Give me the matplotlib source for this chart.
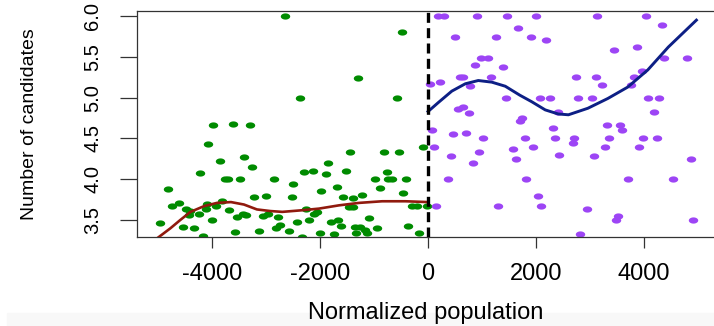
import numpy as np
import matplotlib
matplotlib.use("Agg")
import matplotlib.pyplot as plt
from matplotlib.path import Path
from matplotlib.patches import Rectangle

plt.rcParams["font.family"] = ["Liberation Sans", "DejaVu Sans"]
plt.rcParams["axes.unicode_minus"] = False

# --- data --------------------------------------------------------
# municipalities below the threshold (green)
left_x = [-2650, -3980, -3620, -3290, -4070, -3850, -3410, -3260, -4220, -3770,
          -3710, -3490, -2850, -4820, -3230, -3010, -4750, -4620, -4490, -4400,
          -4090, -4120, -3930, -3810, -3690, -4250, -4430, -3540, -3430, -3380,
          -3060, -2970, -2770, -4960, -4530, -4330, -4000, -4170, -3570, -3140,
          -2810, -2740, -2570, -2420, -2525, -2494, -2296, -2130, -2370, -2330,
          -2265, -2204, -2111, -2061, -2000, -1982, -1895, -1846, -1796, -1735,
          -1691, -1667, -1611, -1574, -1524, -1450, -1457, -1395, -1383, -1333,
          -1259, -1228, -1296, -1173, -1124, -1093, -976, -939, -895, -809,
          -759, -735, -673, -580, -531, -487, -457, -413, -365, -302,
          -209, -172, -98, -24, -1346]
left_y = [6.00, 4.66, 4.68, 4.66, 4.43, 4.22, 4.27, 4.15, 4.08, 4.00,
          4.00, 4.00, 4.00, 3.88, 3.78, 3.80, 3.67, 3.71, 3.64, 3.61,
          3.70, 3.64, 3.67, 3.73, 3.62, 3.57, 3.56, 3.54, 3.57, 3.56,
          3.55, 3.58, 3.54, 3.46, 3.42, 3.40, 3.50, 3.31, 3.35, 3.37,
          3.40, 3.44, 3.37, 3.47, 3.78, 3.94, 4.09, 4.10, 5.00, 3.29,
          3.64, 3.50, 3.57, 3.60, 3.34, 3.86, 4.07, 4.20, 3.47, 3.33,
          3.91, 3.50, 3.43, 3.78, 4.10, 4.33, 3.66, 3.66, 3.77, 3.34,
          3.42, 3.81, 5.24, 3.38, 3.34, 3.53, 4.00, 3.40, 3.89, 4.33,
          4.09, 4.00, 4.00, 5.00, 4.33, 5.80, 3.83, 4.00, 3.43, 3.67,
          3.67, 3.34, 4.40, 3.67, 3.42]

# municipalities above the threshold (purple)
right_x = [180, 302, 913, 1469, 2006, 1673, 500, 1259, 1914, 2191,
           976, 1117, 870, 1383, 37, 228, 593, 654, 1161, 784,
           1438, 2080, 2265, 562, 654, 765, 1735, 1704, 2402, 68,
           469, 704, 1025, 1790, 2309, 2352, 111, 426, 950, 827,
           1580, 1636, 1951, 2426, 377, 1815, 2037, 148, 1303, 2099,
           3135, 4043, 4328, 3439, 3871, 4376, 4797, 3963, 2747, 3117,
           3222, 3815, 3754, 2778, 3037, 4074, 4272, 4186, 3321, 3550,
           3587, 2704, 2685, 3358, 3988, 4241, 3284, 3908, 3074, 4865,
           3698, 4537, 2945, 3513, 3476, 4908, 2821]
right_y = [6.00, 6.00, 6.00, 6.00, 6.00, 5.85, 5.74, 5.74, 5.74, 5.71,
           5.49, 5.49, 5.40, 5.38, 5.17, 5.19, 5.25, 5.25, 5.25, 5.14,
           4.99, 4.99, 4.99, 4.86, 4.88, 4.81, 4.75, 4.71, 4.83, 4.60,
           4.55, 4.57, 4.50, 4.50, 4.63, 4.50, 4.40, 4.29, 4.33, 4.20,
           4.37, 4.25, 4.40, 4.30, 4.00, 4.00, 3.80, 3.67, 3.67, 3.67,
           6.00, 6.00, 5.89, 5.59, 5.62, 5.49, 5.49, 5.33, 5.25, 5.25,
           5.16, 5.25, 5.16, 4.99, 4.99, 4.99, 4.99, 4.83, 4.66, 4.66,
           4.60, 4.50, 4.44, 4.50, 4.50, 4.50, 4.40, 4.40, 4.29, 4.25,
           4.00, 4.00, 3.63, 3.55, 3.50, 3.50, 3.33]

# smoothed fits on each side
left_fit_x = [-4990, -4770, -4590, -4400, -4150, -3910, -3650, -3410, -3170,
              -2920, -2700, -2330, -2020, -1650, -1280, -850, -420, 0]
left_fit_y = [3.29, 3.40, 3.50, 3.60, 3.67, 3.71, 3.72, 3.69, 3.63,
              3.61, 3.60, 3.62, 3.64, 3.68, 3.71, 3.73, 3.73, 3.72]
right_fit_x = [0, 190, 440, 690, 930, 1180, 1430, 1700, 1920,
               2170, 2410, 2600, 2960, 3330, 3700, 4070, 4450, 4970]
right_fit_y = [4.83, 4.94, 5.08, 5.17, 5.21, 5.19, 5.14, 5.03, 4.95,
               4.85, 4.80, 4.79, 4.87, 4.99, 5.13, 5.34, 5.62, 5.95]

x_ticks = [-4000, -2000, 0, 2000, 4000]
y_ticks = [3.5, 4.0, 4.5, 5.0, 5.5, 6.0]

# --- figure ------------------------------------------------------
fig = plt.figure(figsize=(7.14, 3.26), dpi=100)

# faint grey strip along the bottom edge of the screenshot
fig.add_artist(Rectangle((7 / 714, 0), 1, 13 / 326, transform=fig.transFigure,
                         color="#f8f8f8", zorder=-1))

ax = fig.add_axes([0.192, 0.273, 0.808, 0.693])
ax.patch.set_alpha(0)

# slightly flattened dots, like the reference
t = np.linspace(0, 2 * np.pi, 40)
dot = Path(np.column_stack([np.cos(t), 0.66 * np.sin(t)]), closed=True)

ax.scatter(left_x, left_y, s=46, marker=dot, color="#008b00", linewidths=0, zorder=2)
ax.scatter(right_x, right_y, s=46, marker=dot, color="#9d45f5", linewidths=0, zorder=2)
ax.plot(left_fit_x, left_fit_y, color="#901a0e", lw=1.9, zorder=3)
ax.plot(right_fit_x, right_fit_y, color="#0d1f85", lw=2.1, zorder=3)
ax.axvline(0, color="black", lw=2.4, ls=(0, (3.0, 1.6)), zorder=4)

ax.set_xlim(-5389, 5296)
ax.set_ylim(3.292, 6.061)
ax.set_xticks(x_ticks)
ax.set_yticks(y_ticks)

for side in ["left", "top", "bottom"]:
    ax.spines[side].set_color("#333333")
    ax.spines[side].set_linewidth(0.9)
ax.spines["right"].set_visible(False)

ax.tick_params(axis="x", length=8, width=0.9, color="#333333", pad=10.5, labelsize=17)
ax.tick_params(axis="y", length=12, width=0.9, color="#333333", pad=13, labelsize=14.5)
for lab in ax.get_yticklabels():
    lab.set_rotation(90)
    lab.set_va("center")

ax.set_xlabel("Normalized population", fontsize=17)
ax.xaxis.set_label_coords(0.5, -0.289)
ax.set_ylabel("Number of candidates", fontsize=14)
ax.yaxis.set_label_coords(-0.172, 0.5)

fig.savefig("out.png", dpi=100)
